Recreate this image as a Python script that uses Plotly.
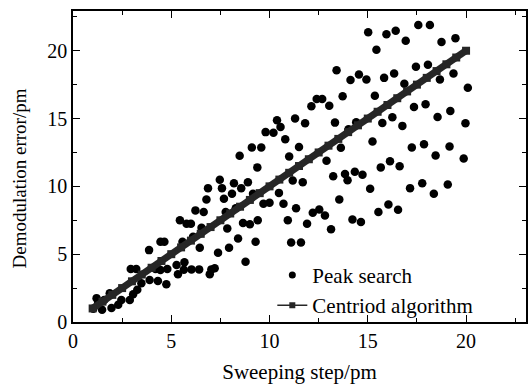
import plotly.graph_objects as go

# Peak search scatter (x: sweeping step / pm, y: demodulation error / pm)
peak_x = [1.03, 1.48, 1.20, 1.28, 1.59, 1.87, 1.96, 2.30, 2.46, 2.89, 3.06, 3.27, 3.48, 3.90, 4.32, 4.75,
          2.94, 3.22, 4.20, 4.45, 4.80, 3.87, 4.45, 4.65, 5.27, 5.67, 5.34, 5.64, 6.03, 6.42, 6.96, 7.04,
          7.21, 5.57, 6.11, 6.45, 7.38, 7.94, 8.40, 9.29, 8.78, 5.44, 5.78, 6.00, 6.54, 6.23, 6.65,
          6.79, 7.77, 7.85, 8.28, 8.65, 9.00, 9.40, 9.69, 10.00, 10.71, 10.93, 11.35, 10.48, 9.16, 8.09,
          7.68, 6.87, 7.58, 8.56, 7.47, 8.19, 8.90, 9.38, 8.48, 9.10, 9.58, 9.80, 10.20, 10.38, 10.56,
          10.80, 11.00, 11.30, 11.50, 11.81, 12.13, 12.40, 12.68, 13.04, 12.90, 13.33, 13.41, 13.63, 13.72,
          14.02, 14.12, 14.41, 14.55, 14.93, 15.02, 15.24, 15.36, 15.44, 15.66, 15.74, 15.83, 15.95, 16.13,
          16.25, 16.34, 16.42, 16.62, 16.76, 16.86, 16.93, 17.24, 17.35, 17.45, 17.57, 17.86, 17.94, 18.06,
          18.16, 18.45, 18.55, 18.67, 18.75, 19.16, 19.20, 19.36, 19.46, 19.88, 19.97, 20.09,
          11.18, 11.69, 11.91, 12.20, 12.53, 12.82, 13.13, 11.10, 11.60, 13.24, 13.55, 13.84, 13.97, 14.34,
          14.73, 14.22, 14.65, 15.12, 15.54, 16.05, 16.54, 17.15, 17.77, 18.36, 19.07]
peak_y = [0.97, 0.90, 1.76, 1.39, 1.63, 2.12, 1.03, 1.27, 1.63, 1.63, 2.05, 2.37, 2.86, 3.10, 3.03, 2.78,
          3.90, 3.90, 3.90, 3.83, 3.90, 5.30, 5.91, 5.91, 4.20, 4.40, 3.52, 3.85, 3.88, 3.88, 3.52, 3.88,
          3.96, 5.91, 6.28, 5.47, 5.10, 5.47, 6.15, 5.91, 4.45, 7.50, 7.25, 7.25, 6.94, 8.23, 8.11,
          9.03, 8.11, 6.90, 8.38, 7.30, 7.20, 7.50, 8.72, 8.79, 8.72, 7.50, 8.38, 9.52, 9.45, 9.45,
          9.08, 9.87, 9.87, 9.87, 10.48, 10.23, 10.31, 11.40, 12.26, 12.87, 12.87, 14.00, 13.95, 14.88, 14.38,
          13.48, 12.20, 15.00, 12.90, 14.65, 15.90, 16.45, 16.45, 15.95, 11.89, 14.70, 18.56, 12.85, 16.65,
          14.21, 17.85, 14.72, 18.24, 17.88, 21.37, 13.30, 16.68, 20.07, 11.40, 14.68, 18.00, 21.22, 11.85,
          15.09, 18.32, 21.47, 11.48, 14.46, 17.56, 20.73, 12.87, 15.86, 18.82, 21.90, 13.11, 16.05, 18.97,
          21.90, 12.28, 15.12, 17.88, 20.64, 12.94, 15.55, 18.32, 20.93, 12.06, 14.65, 17.27,
          10.43, 10.31, 7.25, 8.06, 8.30, 7.86, 6.84, 5.86, 5.86, 10.75, 9.03, 10.92, 10.45, 11.08,
          10.86, 7.55, 7.38, 9.82, 8.11, 8.67, 8.28, 9.87, 10.23, 9.45, 10.13]

# Centroid algorithm result
cent_x = [1.0, 1.5, 2.0, 2.5, 3.0, 3.5, 4.0, 4.5, 5.0, 5.5, 6.0, 6.5, 7.0, 7.5, 8.0, 8.5, 9.0, 9.5, 10.0,
          10.5, 11.0, 11.5, 12.0, 12.5, 13.0, 13.5, 14.0, 14.5, 15.0, 15.5, 16.0, 16.5, 17.0, 17.5, 18.0,
          18.5, 19.0, 19.5, 20.0]
cent_y = [1.0, 1.5, 2.0, 2.5, 3.0, 3.5, 4.0, 4.5, 5.0, 5.5, 6.0, 6.5, 7.0, 7.5, 8.0, 8.5, 9.0, 9.5, 10.0,
          10.5, 11.0, 11.5, 12.0, 12.5, 13.0, 13.5, 14.0, 14.5, 15.0, 15.5, 16.0, 16.5, 17.0, 17.5, 18.0,
          18.5, 19.0, 19.5, 20.0]

tick_vals = [0, 5, 10, 15, 20]
tick_text = ["0", "5", "10", "15", "20"]

FONT = "Liberation Serif, Times New Roman, serif"
DARK = "#262626"

fig = go.Figure()
fig.add_trace(go.Scatter(
    x=peak_x, y=peak_y, mode="markers", name="Peak search", showlegend=False,
    legendgroup="peak",
    marker=dict(symbol="circle", size=8.5, color="black", line=dict(width=0)),
))
fig.add_trace(go.Scatter(
    x=cent_x, y=cent_y, mode="lines+markers", name="Centriod algorithm", showlegend=False,
    legendgroup="cent",
    line=dict(color=DARK, width=7),
    marker=dict(symbol="square", size=8, color=DARK),
))
# legend entries (thin styling as in the original legend)
fig.add_trace(go.Scatter(
    x=[None], y=[None], mode="markers", name="Peak search", legendgroup="peak",
    marker=dict(symbol="circle", size=7, color="black"),
))
fig.add_trace(go.Scatter(
    x=[None], y=[None], mode="lines+markers", name="Centriod algorithm", legendgroup="cent",
    line=dict(color=DARK, width=1.5),
    marker=dict(symbol="square", size=6, color=DARK),
))

axis_common = dict(
    showgrid=False, zeroline=False, showline=True, linecolor="black", linewidth=1.5,
    ticks="inside", ticklen=7, tickwidth=1.2, tickcolor="black", mirror="allticks",
    tickfont=dict(family=FONT, size=20, color="black"),
    minor=dict(ticks="inside", ticklen=4, tickwidth=1.2, tickcolor="black", dtick=2.5),
)

fig.update_layout(
    width=529, height=384,
    margin=dict(l=73, r=1, t=11, b=60),
    paper_bgcolor="white", plot_bgcolor="white",
    font=dict(family=FONT, size=20, color="black"),
    xaxis=dict(range=[0, 23.05], tickvals=tick_vals, ticktext=tick_text,
               title=dict(text="Sweeping step/pm", font=dict(family=FONT, size=21), standoff=17),
               **axis_common),
    yaxis=dict(range=[0, 22.93], tickvals=tick_vals, ticktext=tick_text, **axis_common),
    annotations=[dict(
        text="Demodulation error/pm", textangle=-90, xref="paper", yref="paper",
        x=-0.118, y=0.46, xanchor="center", yanchor="middle", showarrow=False,
        font=dict(family=FONT, size=19, color="black"),
    )],
    legend=dict(x=0.44, y=-0.012, xanchor="left", yanchor="bottom",
                bgcolor="rgba(0,0,0,0)", font=dict(family=FONT, size=21),
                tracegroupgap=0, itemsizing="trace"),
    showlegend=True,
)

fig.write_html("out.html")
